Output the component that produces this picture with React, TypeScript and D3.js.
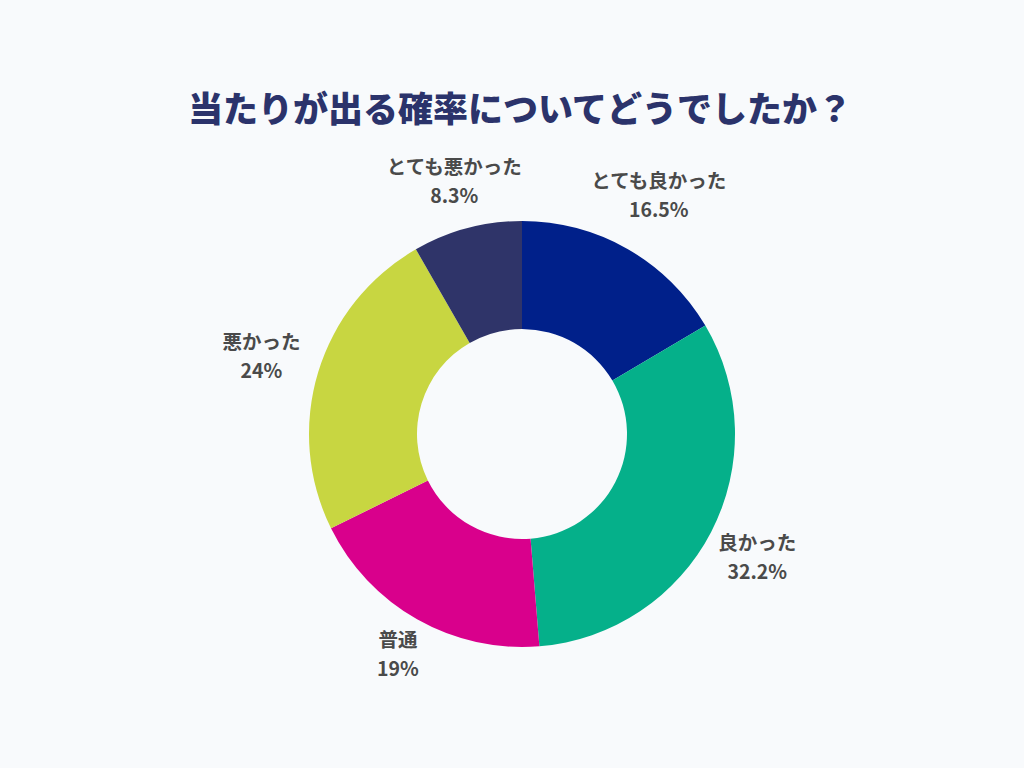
import React from "react";
import * as d3 from "d3";

const categories = ["とても良かった", "良かった", "普通", "悪かった", "とても悪かった"];
const values = [16.5, 32.2, 19, 24, 8.3];
const valueLabels = ["16.5%", "32.2%", "19%", "24%", "8.3%"];
const colors = ["#00208a", "#05b08a", "#d9008c", "#c8d641", "#2f3469"];
const title = "当たりが出る確率についてどうでしたか？";

const W = 1024;
const H = 768;
const cx = 522;
const cy = 434;
const R = 213;
const r0 = 105;
const fs = 19.5;
const lh = 29;

export default function App() {
  const pie = d3.pie<number>().sort(null).value((d) => d)(values);
  const arc = d3.arc<d3.PieArcDatum<number>>().innerRadius(r0).outerRadius(R);

  return (
    <svg width={W} height={H} style={{ position: "absolute", left: 0, top: 0, background: "#f8fafc" }}>
      <rect x={0} y={0} width={W} height={H} fill="#f8fafc" />
      <text
        x={520}
        y={106}
        textAnchor="middle"
        dominantBaseline="central"
        fontFamily="'Noto Sans CJK JP', sans-serif"
        fontWeight={900}
        fontSize={35}
        fill="#2b336b"
      >
        {title}
      </text>
      <g transform={`translate(${cx},${cy})`}>
        {pie.map((p, i) => (
          <path key={i} d={arc(p) || ""} fill={colors[i]} />
        ))}
        {pie.map((p, i) => {
          const mid = (p.startAngle + p.endAngle) / 2;
          const sx = Math.sin(mid);
          const sy = -Math.cos(mid);
          const wText = Math.max(categories[i].length * fs, valueLabels[i].length * fs * 0.55);
          const hw = wText / 2 + (Math.abs(sx) > 0.9 ? 10 : 0);
          const hh = lh;
          const ext = Math.abs(sx) * hw + Math.abs(sy) * hh;
          const d = R + 4 + ext;
          const x = sx * d;
          const y = sy * d;
          return (
            <g key={"l" + i} transform={`translate(${x},${y})`}>
              <text
                textAnchor="middle"
                fontFamily="'Noto Sans CJK JP', sans-serif"
                fontWeight={700}
                fontSize={fs}
                fill="#4a4a4a"
              >
                <tspan x={0} y={-lh / 2} dominantBaseline="central">{categories[i]}</tspan>
                <tspan x={0} y={lh / 2} dominantBaseline="central">{valueLabels[i]}</tspan>
              </text>
            </g>
          );
        })}
      </g>
    </svg>
  );
}
